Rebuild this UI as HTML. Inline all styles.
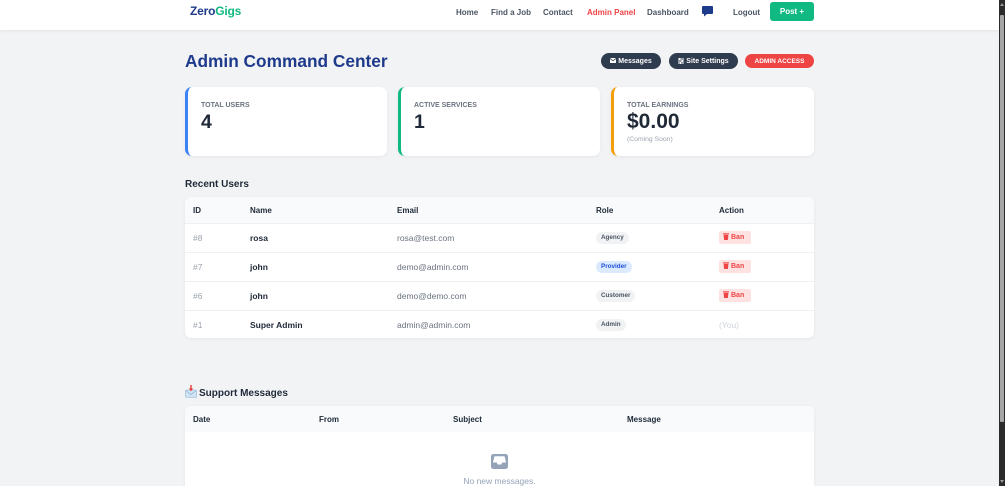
<!DOCTYPE html>
<html><head><meta charset="utf-8"><style>
*{margin:0;padding:0;box-sizing:border-box}
html,body{width:1005px;height:486px;overflow:hidden}
body{background:#f2f3f5;font-family:"Liberation Sans",sans-serif;position:relative}
.a{position:absolute;white-space:nowrap}
.nav{left:0;top:0;width:999px;height:30px;background:#fff;box-shadow:0 1px 3px rgba(0,0,0,.07)}
.nl{top:5px;line-height:16px;font-size:8px;font-weight:bold;color:#4b5563}
.pill{height:16px;border-radius:8px;background:#2f3b4e;color:#fff;font-size:7px;font-weight:bold;line-height:17px;text-align:center}
.card{top:87px;height:69px;background:#fff;border-radius:7px;box-shadow:0 1px 3px rgba(0,0,0,.06)}
.lbl{left:13px;top:14px;line-height:10px;font-size:7px;font-weight:bold;color:#6b7280}
.num{left:13px;top:24px;line-height:22px;font-size:19.5px;font-weight:bold;color:#1f2937}
.tbl{left:185px;width:629px;background:#fff;border-radius:6px;overflow:hidden;box-shadow:0 1px 3px rgba(0,0,0,.06)}
.th{left:0;top:0;width:629px;height:26px;background:#f8fafc}
.hc{top:9px;line-height:10px;font-size:8px;font-weight:bold;color:#1f2937}
.row{left:0;width:629px;height:29px;border-top:1px solid #eef0f3}
.c{top:9px;line-height:11px;font-size:8.5px}
.id{color:#9ca3af}
.nm{font-weight:bold;color:#1f2937}
.em{color:#6b7280}
.bd{top:8px;height:12px;line-height:12px;padding:0 5px;border-radius:6px;font-size:6.3px;font-weight:bold;background:#f1f2f4;color:#4b5563}
.ban{left:534px;top:7px;width:32px;height:13px;border-radius:2px;background:#fee2e2;color:#ef4444;font-size:7px;font-weight:bold;line-height:13px;padding-left:4px}
.ban svg{vertical-align:-1px;margin-right:2px}
</style></head><body>

<div class="a nav"></div>
<div class="a" style="left:190px;top:3px;line-height:16px;font-size:12px;font-weight:bold;letter-spacing:-0.2px"><span style="color:#1e3a8a">Zero</span><span style="color:#10b981">Gigs</span></div>
<div class="a nl" style="left:456px">Home</div>
<div class="a nl" style="left:491px">Find a Job</div>
<div class="a nl" style="left:543px">Contact</div>
<div class="a nl" style="left:587px;color:#ef4444">Admin Panel</div>
<div class="a nl" style="left:647px">Dashboard</div>
<svg class="a" style="left:702px;top:6px" width="11" height="11" viewBox="0 0 11 11"><path d="M1 0h9a1 1 0 0 1 1 1v6a1 1 0 0 1-1 1H5l-3 2.5V8H1a1 1 0 0 1-1-1V1a1 1 0 0 1 1-1z" fill="#1e3a8a"/></svg>
<div class="a nl" style="left:733px">Logout</div>
<div class="a" style="left:770px;top:2px;width:44px;height:19px;border-radius:3px;background:#10b981;color:#fff;font-size:8px;font-weight:bold;line-height:20px;text-align:center">Post +</div>

<div class="a" style="left:185px;top:50px;line-height:22px;font-size:17.3px;font-weight:bold;color:#1e3a8a">Admin Command Center</div>

<div class="a pill" style="left:601px;top:53px;width:60px"><svg width="6" height="5" viewBox="0 0 6 5" style="vertical-align:0px;margin-right:2px"><rect width="6" height="5" rx="0.5" fill="#fff"/><path d="M0 0.5L3 2.8L6 0.5" stroke="#2f3b4e" stroke-width="0.8" fill="none"/></svg>Messages</div>
<div class="a pill" style="left:669px;top:53px;width:69px"><svg width="6" height="6" viewBox="0 0 6 6" style="vertical-align:-0.5px;margin-right:2px"><path d="M0 1h6M0 3h6M0 5h6" stroke="#fff" stroke-width="0.9"/><rect x="1" y="0" width="1.3" height="2" fill="#fff"/><rect x="3.5" y="2" width="1.3" height="2" fill="#fff"/><rect x="1.8" y="4" width="1.3" height="2" fill="#fff"/></svg>Site Settings</div>
<div class="a" style="left:745px;top:54px;width:69px;height:14px;border-radius:7px;background:#ef4444;color:#fff;font-size:6.5px;font-weight:bold;line-height:15px;text-align:center">ADMIN ACCESS</div>

<div class="a card" style="left:185px;width:202px;border-left:3px solid #3b82f6">
  <div class="a lbl">TOTAL USERS</div><div class="a num">4</div>
</div>
<div class="a card" style="left:398px;width:202px;border-left:3px solid #10b981">
  <div class="a lbl">ACTIVE SERVICES</div><div class="a num">1</div>
</div>
<div class="a card" style="left:611px;width:203px;border-left:3px solid #f59e0b">
  <div class="a lbl">TOTAL EARNINGS</div><div class="a num" style="font-size:21px">$0.00</div>
  <div class="a" style="left:13px;top:48px;line-height:9px;font-size:6.8px;color:#9ca3af">(Coming Soon)</div>
</div>

<div class="a" style="left:185px;top:179px;line-height:12px;font-size:10px;font-weight:bold;color:#1f2937">Recent Users</div>

<div class="a tbl" style="top:197px;height:141px">
  <div class="a th"></div>
  <div class="a hc" style="left:8px">ID</div>
  <div class="a hc" style="left:65px">Name</div>
  <div class="a hc" style="left:212px">Email</div>
  <div class="a hc" style="left:411px">Role</div>
  <div class="a hc" style="left:534px">Action</div>

  <div class="a row" style="top:26px">
    <div class="a c id" style="left:8px">#8</div>
    <div class="a c nm" style="left:65px">rosa</div>
    <div class="a c em" style="left:212px">rosa@test.com</div>
    <div class="a bd" style="left:411px">Agency</div>
    <div class="a ban"><svg width="6" height="7" viewBox="0 0 6 7"><rect x="0" y="0.3" width="6" height="1" fill="#ef4444"/><path d="M0.6 1.7h4.8l-0.5 5.3h-3.8z" fill="#ef4444"/></svg>Ban</div>
  </div>
  <div class="a row" style="top:55px">
    <div class="a c id" style="left:8px">#7</div>
    <div class="a c nm" style="left:65px">john</div>
    <div class="a c em" style="left:212px">demo@admin.com</div>
    <div class="a bd" style="left:411px;background:#dbeafe;color:#1d4ed8">Provider</div>
    <div class="a ban"><svg width="6" height="7" viewBox="0 0 6 7"><rect x="0" y="0.3" width="6" height="1" fill="#ef4444"/><path d="M0.6 1.7h4.8l-0.5 5.3h-3.8z" fill="#ef4444"/></svg>Ban</div>
  </div>
  <div class="a row" style="top:84px">
    <div class="a c id" style="left:8px">#6</div>
    <div class="a c nm" style="left:65px">john</div>
    <div class="a c em" style="left:212px">demo@demo.com</div>
    <div class="a bd" style="left:411px">Customer</div>
    <div class="a ban"><svg width="6" height="7" viewBox="0 0 6 7"><rect x="0" y="0.3" width="6" height="1" fill="#ef4444"/><path d="M0.6 1.7h4.8l-0.5 5.3h-3.8z" fill="#ef4444"/></svg>Ban</div>
  </div>
  <div class="a row" style="top:113px;height:28px">
    <div class="a c id" style="left:8px;top:9px">#1</div>
    <div class="a c nm" style="left:65px;top:9px">Super Admin</div>
    <div class="a c em" style="left:212px;top:9px">admin@admin.com</div>
    <div class="a bd" style="left:411px;top:8px">Admin</div>
    <div class="a c" style="left:534px;top:9px;color:#d1d5db">(You)</div>
  </div>
</div>

<svg class="a" style="left:185px;top:385px" width="12" height="13" viewBox="0 0 12 13"><rect x="0.5" y="5" width="11" height="7.5" rx="1" fill="#cfe3f3" stroke="#8fb4d3" stroke-width="0.6"/><path d="M0.8 5.5L6 9.5L11.2 5.5" stroke="#8fb4d3" stroke-width="0.7" fill="none"/><path d="M6 0v5" stroke="#e53935" stroke-width="1.4"/><path d="M3.8 3.5L6 6.2L8.2 3.5z" fill="#e53935"/></svg>
<div class="a" style="left:199px;top:388px;line-height:12px;font-size:10px;font-weight:bold;color:#1f2937">Support Messages</div>

<div class="a tbl" style="top:406px;height:80px;border-bottom-left-radius:0;border-bottom-right-radius:0">
  <div class="a th"></div>
  <div class="a hc" style="left:8px">Date</div>
  <div class="a hc" style="left:134px">From</div>
  <div class="a hc" style="left:268px">Subject</div>
  <div class="a hc" style="left:442px">Message</div>
</div>
<svg class="a" style="left:491px;top:454px" width="17" height="15" viewBox="0 0 17 15"><rect x="0" y="0" width="17" height="15" rx="2.5" fill="#94a3b8"/><path d="M3.5 2.2h10l1.6 6.3h-3.8l-1 2h-3.6l-1-2H1.9z" fill="#fff"/></svg>
<div class="a" style="left:400px;width:199px;top:476px;line-height:10px;font-size:8.5px;color:#94a3b8;text-align:center">No new messages.</div>

<div class="a" style="left:999px;top:0;width:6px;height:486px;background:#2b2b2b"></div>
<div class="a" style="left:1000px;top:15px;width:4px;height:407px;background:#a6a6a6;border-radius:1px"></div>
<div class="a" style="left:1000px;top:3px;width:0;height:0;border-left:2px solid transparent;border-right:2px solid transparent;border-bottom:3px solid #9a9a9a"></div>
<div class="a" style="left:1000px;top:480px;width:0;height:0;border-left:2px solid transparent;border-right:2px solid transparent;border-top:3px solid #9a9a9a"></div>
</body></html>
